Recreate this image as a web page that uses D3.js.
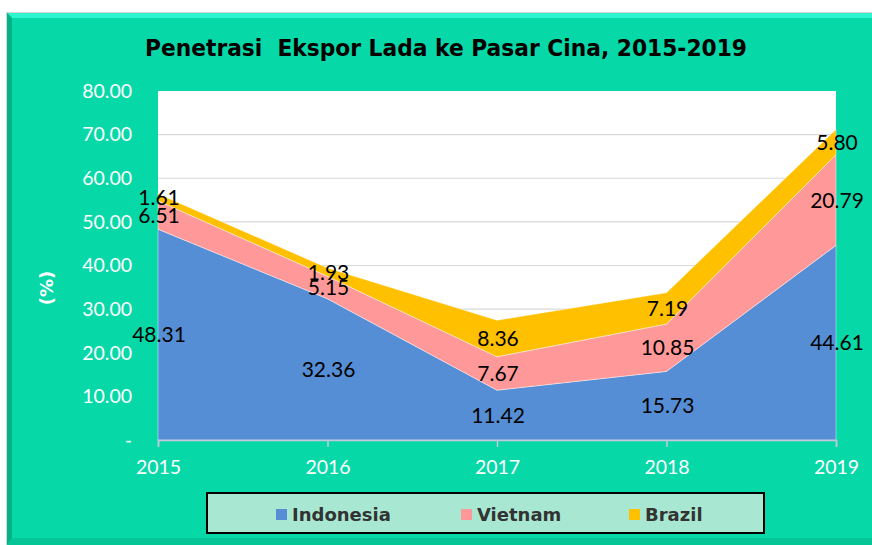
<!DOCTYPE html>
<html>
<head>
<meta charset="utf-8">
<script src="https://cdn.jsdelivr.net/npm/d3@7"></script>
<style>
  body { margin: 0; background: #fff; }
  svg { display: block; }
</style>
</head>
<body>
<script>
var years = [2015, 2016, 2017, 2018, 2019];
var seriesNames = ["Indonesia", "Vietnam", "Brazil"];
var indonesia = [48.31, 32.36, 11.42, 15.73, 44.61];
var vietnam = [6.51, 5.15, 7.67, 10.85, 20.79];
var brazil = [1.61, 1.93, 8.36, 7.19, 5.80];
var yTicks = [0, 10, 20, 30, 40, 50, 60, 70, 80];
var colors = ["#558ed5", "#ff9999", "#ffc000"];

var w = 872, h = 545;
var bg = "#07d8a8";

var svg = d3.select("body").append("svg")
    .attr("width", w)
    .attr("height", h);

// chart frame with bevel
svg.append("rect").attr("x", 6).attr("y", 12).attr("width", w).attr("height", h)
    .attr("fill", "#d4d4d4");
svg.append("rect").attr("x", 7).attr("y", 13).attr("width", w).attr("height", h)
    .attr("fill", bg);
svg.append("polygon")
    .attr("points", "7,13 " + w + ",13 " + w + ",18 12,18")
    .attr("fill", "#2ef5cf");
svg.append("polygon")
    .attr("points", "7,13 12,18 12,538 7," + h)
    .attr("fill", "#03b286");
svg.append("polygon")
    .attr("points", "7," + h + " 12,538 " + w + ",538 " + w + "," + h)
    .attr("fill", "#05c496");

// title
svg.append("text")
    .attr("x", 446)
    .attr("y", 56)
    .attr("text-anchor", "middle")
    .attr("textLength", 602)
    .attr("lengthAdjust", "spacingAndGlyphs")
    .style("font-family", "'DejaVu Sans', Verdana, sans-serif")
    .style("font-weight", "bold")
    .style("font-size", "23px")
    .style("white-space", "pre")
    .attr("fill", "#000")
    .text("Penetrasi  Ekspor Lada ke Pasar Cina, 2015-2019");

var x = d3.scaleLinear().domain([2015, 2019]).range([158, 836]);
var y = d3.scaleLinear().domain([0, 80]).range([440, 91]);

// plot area
svg.append("rect")
    .attr("x", x(2015)).attr("y", y(80))
    .attr("width", x(2019) - x(2015)).attr("height", y(0) - y(80))
    .attr("fill", "#fff");

// gridlines
svg.append("g").selectAll("line")
    .data(yTicks.slice(1, -1))
    .enter().append("line")
    .attr("x1", x(2015)).attr("x2", x(2019))
    .attr("y1", function(d) { return y(d); })
    .attr("y2", function(d) { return y(d); })
    .attr("stroke", "#d9d9d9")
    .attr("stroke-width", 1.2);

// stacked areas
var table = years.map(function(yr, i) {
    return { year: yr, Indonesia: indonesia[i], Vietnam: vietnam[i], Brazil: brazil[i] };
});
var stack = d3.stack().keys(seriesNames)(table);

var area = d3.area()
    .x(function(d) { return x(d.data.year); })
    .y0(function(d) { return y(d[0]); })
    .y1(function(d) { return y(d[1]); });

svg.append("g").selectAll("path")
    .data(stack)
    .enter().append("path")
    .attr("d", area)
    .attr("fill", function(d, i) { return colors[i]; })
    .attr("stroke", "#fff")
    .attr("stroke-opacity", 0.6)
    .attr("stroke-width", 0.7);

// x axis
var xAxis = svg.append("g")
    .attr("transform", "translate(0," + y(0) + ")")
    .call(d3.axisBottom(x).tickValues(years).tickFormat(d3.format("d")).tickSize(7).tickPadding(13));
xAxis.select(".domain").attr("stroke", "#c4c8dc").attr("stroke-width", 1.5);
xAxis.selectAll(".tick line").attr("stroke", "#c4c8dc").attr("stroke-width", 1.5);
xAxis.selectAll("text")
    .attr("fill", "#fff")
    .style("font-family", "Lato, 'Noto Sans', sans-serif")
    .style("font-size", "19.5px");

// y axis
var yAxis = svg.append("g")
    .attr("transform", "translate(" + 136 + ",0)")
    .call(d3.axisLeft(y).tickValues(yTicks).tickSize(0).tickPadding(4)
        .tickFormat(function(d) { return d === 0 ? "-" : d.toFixed(2); }));
yAxis.select(".domain").remove();
yAxis.selectAll("text")
    .attr("fill", "#fff")
    .style("font-family", "Lato, 'Noto Sans', sans-serif")
    .style("font-size", "19.5px");

svg.append("text")
    .attr("transform", "translate(53,288) rotate(-90)")
    .attr("text-anchor", "middle")
    .attr("fill", "#fff")
    .style("font-family", "'DejaVu Sans', Verdana, sans-serif")
    .style("font-weight", "bold")
    .style("font-size", "18px")
    .text("(%)");

// data labels
stack.forEach(function(layer) {
    svg.append("g").selectAll("text")
        .data(layer)
        .enter().append("text")
        .attr("x", function(d) { return x(d.data.year) + 1; })
        .attr("y", function(d) { return y((d[0] + d[1]) / 2); })
        .attr("dy", "0.36em")
        .attr("text-anchor", "middle")
        .attr("fill", "#000")
        .style("font-family", "Lato, 'Noto Sans', sans-serif")
        .style("font-size", "21px")
        .text(function(d) { return (d[1] - d[0]).toFixed(2); });
});

// legend
svg.append("rect")
    .attr("x", 207).attr("y", 493)
    .attr("width", 557).attr("height", 40)
    .attr("fill", "#a8e8d2")
    .attr("stroke", "#000")
    .attr("stroke-width", 2);

var legendX = [276, 461, 629];
var legend = svg.append("g").selectAll("g")
    .data(seriesNames)
    .enter().append("g")
    .attr("transform", function(d, i) { return "translate(" + legendX[i] + ",509)"; });
legend.append("rect")
    .attr("width", 11).attr("height", 11)
    .attr("fill", function(d, i) { return colors[i]; });
legend.append("text")
    .attr("x", 16).attr("y", 12)
    .attr("fill", "#333")
    .style("font-family", "'DejaVu Sans', Verdana, sans-serif")
    .style("font-weight", "bold")
    .style("font-size", "18px")
    .text(function(d) { return d; });
</script>
</body>
</html>
